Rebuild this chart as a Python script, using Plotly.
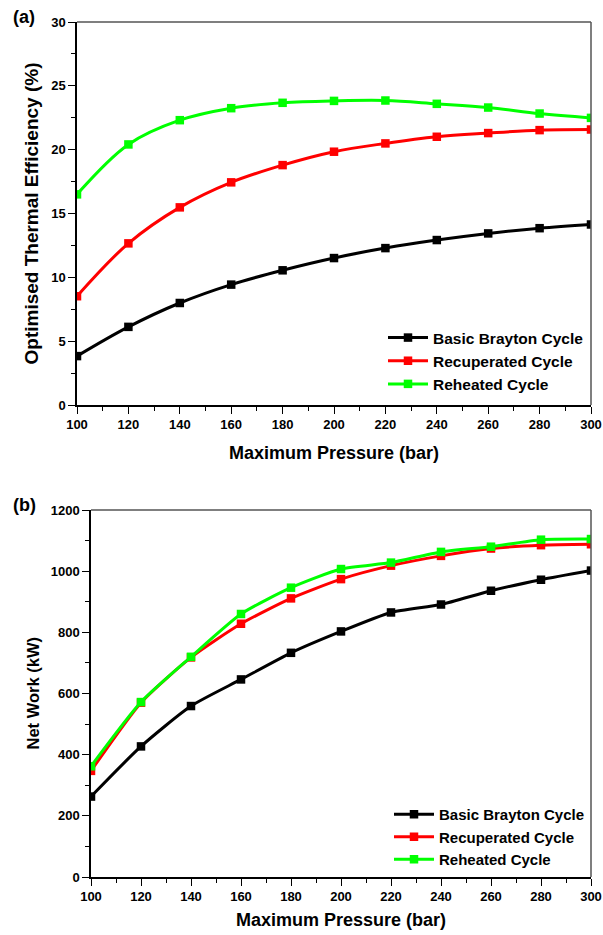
import plotly.graph_objects as go

# Maximum cycle pressure (bar)
pressure = [100, 120, 140, 160, 180, 200, 220, 240, 260, 280, 300]

# (a) Optimised thermal efficiency (%)
eff_basic = [3.83, 6.12, 7.99, 9.43, 10.55, 11.51, 12.29, 12.92, 13.44, 13.85, 14.14]
eff_recup = [8.52, 12.66, 15.48, 17.44, 18.79, 19.84, 20.49, 21.01, 21.30, 21.53, 21.58]
eff_reheat = [16.5, 20.41, 22.31, 23.25, 23.67, 23.82, 23.85, 23.59, 23.30, 22.83, 22.49]

# (b) Net work (kW)
work_basic = [263, 427, 559, 646, 733, 803, 865, 891, 936, 972, 1002]
work_recup = [347, 570, 718, 828, 911, 974, 1018, 1050, 1074, 1085, 1088]
work_reheat = [362, 572, 720, 860, 946, 1007, 1028, 1063, 1080, 1103, 1105]

series_names = ["Basic Brayton Cycle", "Recuperated Cycle", "Reheated Cycle"]
series_colors = ["#000000", "#FF0000", "#00FF00"]

x_ticks = list(range(100, 301, 20))

FONT = "Liberation Sans, Arial, sans-serif"
W, H = 603, 935

# plot-area pixel boxes: (left, right, top, bottom)
box_a = (77, 591, 22, 405)
box_b = (91, 591, 510, 877)


def dom_x(b):
    return [b[0] / W, b[1] / W]


def dom_y(b):
    return [1 - b[3] / H, 1 - b[2] / H]


fig = go.Figure()

for name, color, ys in zip(series_names, series_colors, [eff_basic, eff_recup, eff_reheat]):
    fig.add_trace(go.Scatter(
        x=pressure, y=ys, name=name, mode="lines+markers",
        line=dict(color=color, width=3, shape="spline", smoothing=1.0),
        marker=dict(symbol="square", size=8.5, color=color),
        xaxis="x", yaxis="y", legend="legend",
    ))

for name, color, ys in zip(series_names, series_colors, [work_basic, work_recup, work_reheat]):
    fig.add_trace(go.Scatter(
        x=pressure, y=ys, name=name, mode="lines+markers",
        line=dict(color=color, width=3, shape="spline", smoothing=0.6),
        marker=dict(symbol="square", size=8.5, color=color),
        xaxis="x2", yaxis="y2", legend="legend2",
    ))

tickfont = dict(family=FONT, size=13, color="#000", weight="bold")


def title_font(size):
    return dict(family=FONT, size=size, color="#000", weight="bold")


common_x = dict(
    range=[100, 300], tickvals=x_ticks, ticks="outside", ticklen=7, tickwidth=1.3,
    tickcolor="#000", showline=True, linecolor="#000", linewidth=1.5,
    showgrid=False, zeroline=False, tickfont=tickfont, automargin=False,
    minor=dict(dtick=10, tick0=100, ticks="outside", ticklen=4, tickcolor="#000", tickwidth=1.2),
)

common_y = dict(
    ticks="outside", ticklen=7, tickwidth=1.3, tickcolor="#000",
    showline=True, linecolor="#000", linewidth=1.5, showgrid=False, zeroline=False,
    tickfont=tickfont, automargin=False,
)

fig.update_layout(
    width=W, height=H, margin=dict(l=0, r=0, t=0, b=0, autoexpand=False),
    paper_bgcolor="white", plot_bgcolor="white",
    font=dict(family=FONT, color="#000"),
    xaxis=dict(domain=dom_x(box_a), anchor="y", **common_x),
    yaxis=dict(
        domain=dom_y(box_a), anchor="x", range=[0, 30], dtick=5, tick0=0,
        minor=dict(dtick=2.5, tick0=0, ticks="outside", ticklen=4, tickcolor="#000", tickwidth=1.2),
        **common_y,
    ),
    xaxis2=dict(domain=dom_x(box_b), anchor="y2", **common_x),
    yaxis2=dict(
        domain=dom_y(box_b), anchor="x2", range=[0, 1200], dtick=200, tick0=0,
        minor=dict(dtick=100, tick0=0, ticks="outside", ticklen=4, tickcolor="#000", tickwidth=1.2),
        **common_y,
    ),
    legend=dict(
        x=383 / W, y=1 - 321 / H, xanchor="left", yanchor="top",
        bgcolor="rgba(0,0,0,0)", borderwidth=0,
        font=dict(family=FONT, size=15.5, color="#000", weight="bold"),
        tracegroupgap=0, itemwidth=40,
    ),
    legend2=dict(
        x=389 / W, y=1 - 798 / H, xanchor="left", yanchor="top",
        bgcolor="rgba(0,0,0,0)", borderwidth=0,
        font=dict(family=FONT, size=15, color="#000", weight="bold"),
        tracegroupgap=0, itemwidth=40,
    ),
)

# grey top and right frame edges
for b in (box_a, box_b):
    x0, x1 = b[0] / W, b[1] / W
    y0, y1 = 1 - b[3] / H, 1 - b[2] / H
    fig.add_shape(type="line", xref="paper", yref="paper", x0=x0, x1=x1, y0=y1, y1=y1,
                  line=dict(color="#555", width=1.5))
    fig.add_shape(type="line", xref="paper", yref="paper", x0=x1, x1=x1, y0=y0, y1=y1,
                  line=dict(color="#555", width=1.5))

# axis titles
axis_titles = [
    ("Maximum Pressure (bar)", (box_a[0] + box_a[1]) / 2, 453, 0, 18),
    ("Maximum Pressure (bar)", (box_b[0] + box_b[1]) / 2, 920, 0, 18),
    ("Optimised Thermal Efficiency (%)", 31, (box_a[2] + box_a[3]) / 2, -90, 19),
    ("Net Work (kW)", 32, (box_b[2] + box_b[3]) / 2, -90, 16.5),
]
for txt, px, py, ang, size in axis_titles:
    fig.add_annotation(text=txt, xref="paper", yref="paper", x=px / W, y=1 - py / H,
                       xanchor="center", yanchor="middle", showarrow=False, textangle=ang,
                       font=title_font(size))

# panel labels
for txt, px, py in (("(a)", 11, 17), ("(b)", 11, 505)):
    fig.add_annotation(text=txt, xref="paper", yref="paper", x=px / W, y=1 - py / H,
                       xanchor="left", yanchor="middle", showarrow=False,
                       font=title_font(18))

fig.write_html("out.html")
